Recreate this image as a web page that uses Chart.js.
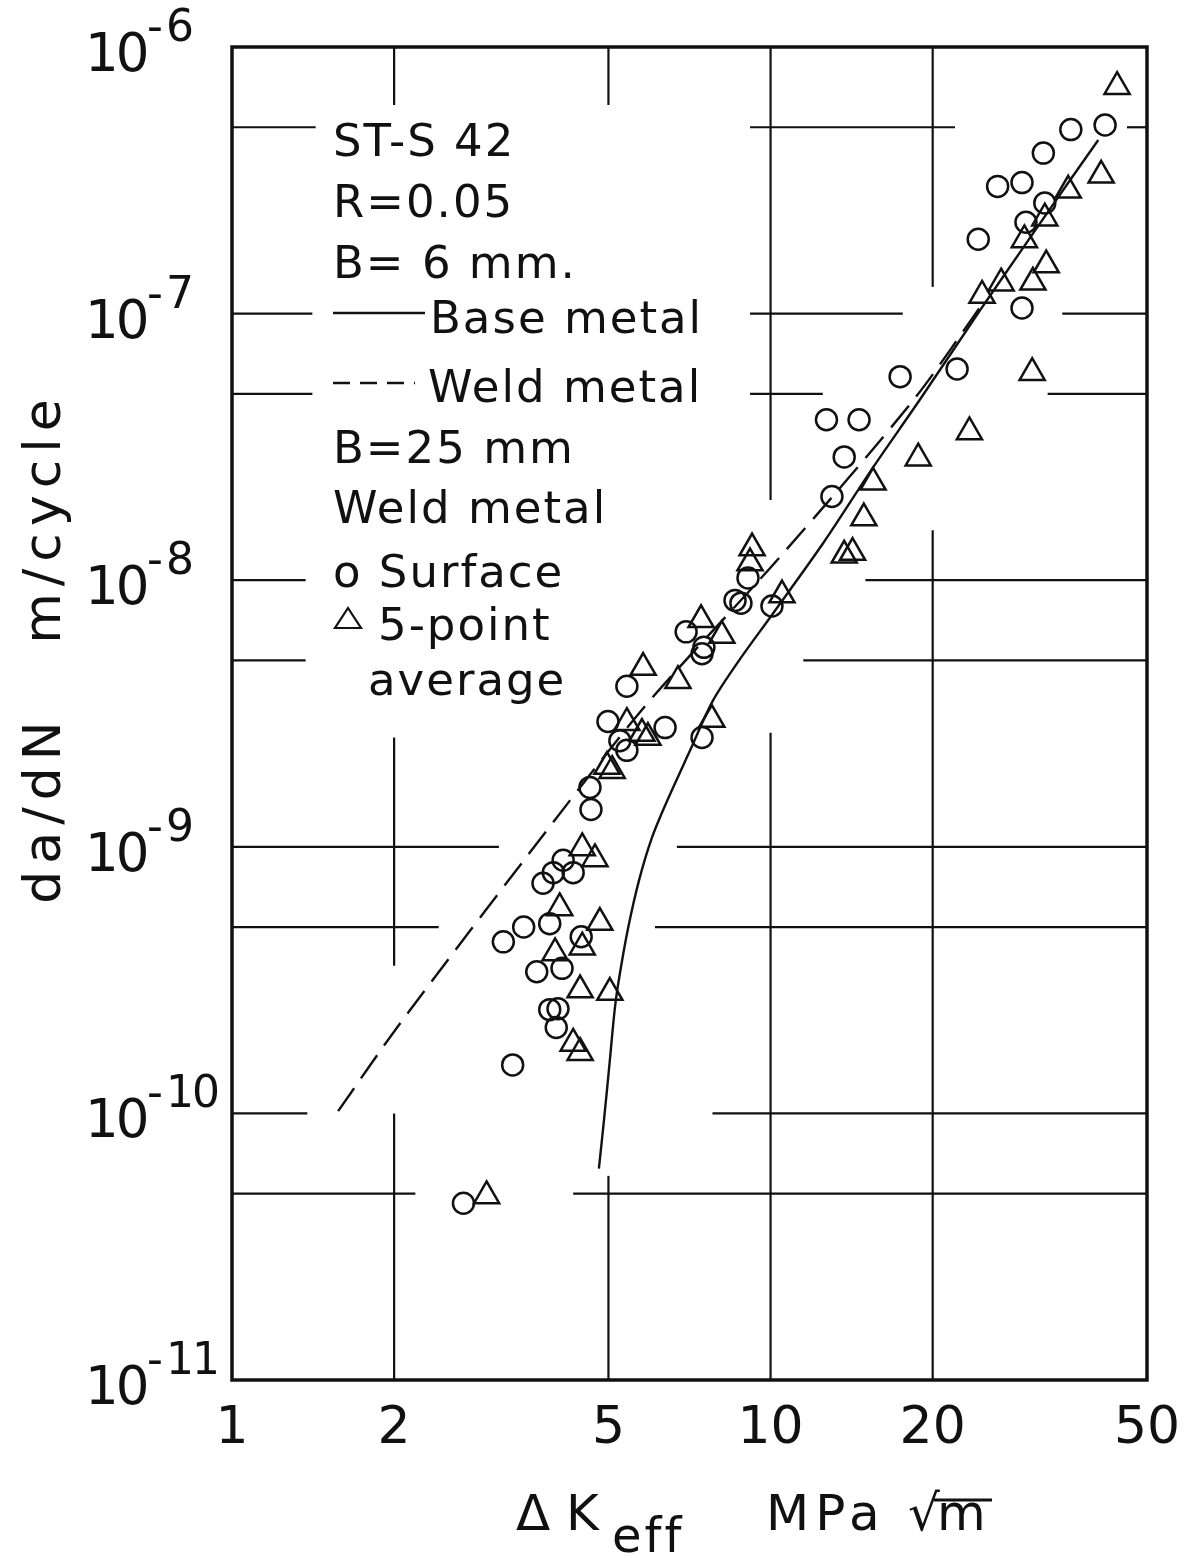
<!DOCTYPE html>
<html>
<head>
<meta charset="utf-8">
<title>Fatigue crack growth rate, ST-S 42</title>
<script src="https://cdn.jsdelivr.net/npm/chart.js@4.4.0/dist/chart.umd.min.js"></script>
<style>
  html, body { margin: 0; padding: 0; background: #fff; }
  #wrap { width: 1187px; height: 1558px; position: relative; }
</style>
</head>
<body>
<div id="wrap"><canvas id="c"></canvas></div>
<script>
// ΔK_eff in MPa√m, da/dN in m/cycle

// B = 25 mm weld metal, surface measurements (circles)
const surfaceK = [41.8, 36.1, 32.1, 29.3, 26.4, 32.3, 29.8, 24.3, 29.3, 22.2, 17.4, 12.7, 14.6, 13.7, 13.0,
  9.08, 8.59, 8.81, 10.06, 6.97, 7.52, 7.46, 5.41, 4.99, 6.37, 5.25, 5.41, 7.46, 4.62, 4.64,
  4.12, 4.30, 3.95, 3.78, 3.89, 3.48, 3.19, 4.45, 3.68, 4.10, 3.89, 4.03, 4.00, 3.32, 2.69];
const surfaceRate = [5.1e-7, 4.9e-7, 4.0e-7, 3.1e-7, 3.0e-7, 2.6e-7, 2.2e-7, 1.9e-7, 1.05e-7, 6.2e-8, 5.8e-8, 4.0e-8, 4.0e-8, 2.9e-8, 2.06e-8,
  1.02e-8, 8.4e-9, 8.2e-9, 8.0e-9, 6.4e-9, 5.6e-9, 5.3e-9, 4.0e-9, 2.95e-9, 2.8e-9, 2.5e-9, 2.3e-9, 2.57e-9, 1.67e-9, 1.38e-9,
  8.9e-10, 8.0e-10, 8.0e-10, 7.3e-10, 5.15e-10, 5.0e-10, 4.4e-10, 4.6e-10, 3.4e-10, 3.5e-10, 2.45e-10, 2.47e-10, 2.1e-10, 1.52e-10, 4.6e-11];

// B = 25 mm weld metal, 5-point average (triangles)
const averageK = [44.0, 41.1, 35.7, 32.3, 29.6, 32.5, 30.7, 26.8, 24.7, 30.6, 23.4, 18.8, 15.5, 14.9, 13.7, 14.2,
  10.5, 9.24, 9.16, 7.43, 8.12, 5.80, 6.73, 5.41, 5.77, 5.92, 7.78, 4.97, 5.08,
  4.47, 4.72, 4.06, 4.82, 3.98, 4.47, 4.43, 5.03, 4.30, 4.43, 2.97];
const averageRate = [7.1e-7, 3.3e-7, 2.9e-7, 2.28e-7, 1.89e-7, 1.52e-7, 1.31e-7, 1.30e-7, 1.17e-7, 6.0e-8, 3.6e-8, 2.87e-8, 2.33e-8, 1.71e-8, 1.24e-8, 1.27e-8,
  8.8e-9, 1.32e-8, 1.16e-8, 7.1e-9, 6.2e-9, 4.7e-9, 4.2e-9, 2.92e-9, 2.66e-9, 2.57e-9, 3.0e-9, 2.0e-9, 1.93e-9,
  9.9e-10, 9.0e-10, 5.9e-10, 5.2e-10, 4.0e-10, 4.2e-10, 2.9e-10, 2.84e-10, 1.83e-10, 1.69e-10, 4.9e-11];

// B = 6 mm base metal curve (solid)
const baseK = [4.80, 4.91, 5.03, 5.14, 5.25, 5.44, 5.70, 6.02, 6.40, 7.09, 7.82, 8.80, 9.98, 12.5, 15.5, 18.9, 24.5, 29.0, 36.0, 40.6];
const baseRate = [6.2e-11, 9.6e-11, 1.58e-10, 2.49e-10, 3.34e-10, 4.97e-10, 7.5e-10, 1.08e-9, 1.46e-9, 2.30e-9, 3.54e-9, 5.1e-9, 7.25e-9, 1.37e-8, 2.65e-8, 4.73e-8, 1.03e-7, 1.69e-7, 3.17e-7, 4.48e-7];

// B = 6 mm weld metal curve (dashed)
const weldK = [1.574, 2.05, 4.24, 5.97, 10.4, 18.4, 25.0];
const weldRate = [1.02e-10, 2.17e-10, 1.49e-9, 3.54e-9, 1.22e-8, 4.73e-8, 1.12e-7];

// axis tick labels
const xTickValues = [1, 2, 5, 10, 20, 50];
const xTickLabels = ['1', '2', '5', '10', '20', '50'];
const yTickExponents = [-6, -7, -8, -9, -10, -11];

// grid rules of the log paper, interrupted where the annotations and data sit
const hGrid = [
  { value: 5e-7,  spans: [[1, 1.43], [9.16, 22.0], [45.9, 50]] },
  { value: 1e-7,  spans: [[1, 1.41], [9.16, 17.6], [34.8, 50]] },
  { value: 5e-8,  spans: [[1, 1.41], [9.16, 12.5], [32.7, 50]] },
  { value: 1e-8,  spans: [[1, 1.37], [15.0, 50]] },
  { value: 5e-9,  spans: [[1, 1.37], [11.5, 50]] },
  { value: 1e-9,  spans: [[1, 3.13], [6.7, 50]] },
  { value: 5e-10, spans: [[1, 2.42], [6.1, 50]] },
  { value: 1e-10, spans: [[1, 1.38], [7.8, 50]] },
  { value: 5e-11, spans: [[1, 2.19], [4.3, 50]] }
];
const vGrid = [
  { value: 2,  spans: [[6.06e-7, 1e-6], [3.58e-10, 2.57e-9], [1e-11, 1e-10]] },
  { value: 5,  spans: [[6.06e-7, 1e-6], [1e-11, 5.83e-11]] },
  { value: 10, spans: [[2.0e-8, 1e-6], [1e-11, 2.68e-9]] },
  { value: 20, spans: [[1.26e-7, 1e-6], [1e-11, 1.54e-8]] }
];

const FONT = '"DejaVu Sans", "Liberation Sans", sans-serif';
const INK = '#111';

const pts = (xs, ys) => xs.map((x, i) => ({ x, y: ys[i] }));

function put(ctx, s, x, y, size, opt = {}) {
  ctx.save();
  ctx.font = `${size}px ${FONT}`;
  ctx.letterSpacing = (opt.spacing || 0) + 'px';
  ctx.textAlign = opt.align || 'left';
  ctx.textBaseline = opt.baseline || 'alphabetic';
  ctx.fillStyle = INK;
  ctx.fillText(s, x, y);
  ctx.restore();
}

const paperGrid = {
  id: 'paperGrid',
  beforeDatasetsDraw(chart) {
    const { ctx, scales: { x, y } } = chart;
    ctx.save();
    ctx.strokeStyle = INK;
    ctx.lineWidth = 2.2;
    hGrid.forEach(g => {
      const py = y.getPixelForValue(g.value);
      g.spans.forEach(([a, b]) => {
        ctx.beginPath();
        ctx.moveTo(x.getPixelForValue(a), py);
        ctx.lineTo(x.getPixelForValue(b), py);
        ctx.stroke();
      });
    });
    vGrid.forEach(g => {
      const px = x.getPixelForValue(g.value);
      g.spans.forEach(([a, b]) => {
        ctx.beginPath();
        ctx.moveTo(px, y.getPixelForValue(a));
        ctx.lineTo(px, y.getPixelForValue(b));
        ctx.stroke();
      });
    });
    ctx.restore();
  }
};

const frameAndText = {
  id: 'frameAndText',
  afterDraw(chart) {
    const { ctx, chartArea: a, scales: { x, y } } = chart;
    ctx.save();
    ctx.strokeStyle = INK;
    ctx.lineWidth = 3.5;
    ctx.strokeRect(a.left, a.top, a.right - a.left, a.bottom - a.top);
    ctx.restore();

    // y tick labels: 10 with raised exponent
    yTickExponents.forEach(e => {
      const py = y.getPixelForValue(Math.pow(10, e));
      const base = py + 24;
      put(ctx, '10', a.left - 147, base, 53, { spacing: -3 });
      put(ctx, '-', a.left - 85, base - 30, 44);
      put(ctx, String(-e), a.left - 66, base - 30, 44, { spacing: -2 });
    });

    // x tick labels
    xTickValues.forEach((v, i) => {
      put(ctx, xTickLabels[i], x.getPixelForValue(v), a.bottom + 63, 52, { align: 'center' });
    });

    // y axis title
    ctx.save();
    ctx.translate(46, 648);
    ctx.rotate(-Math.PI / 2);
    put(ctx, 'da/dN   m/cycle', 0, 0, 52, { align: 'center', baseline: 'middle', spacing: 7 });
    ctx.restore();

    // x axis title: ΔK_eff  MPa√m
    put(ctx, 'Δ', 516, 1530, 50);
    put(ctx, 'K', 566, 1530, 50);
    put(ctx, 'eff', 612, 1552, 48, { spacing: 3 });
    put(ctx, 'MPa', 766, 1530, 50, { spacing: 6 });
    put(ctx, '√', 908, 1530, 50);
    put(ctx, 'm', 937, 1530, 50);
    ctx.save();
    ctx.strokeStyle = INK;
    ctx.lineWidth = 3;
    ctx.beginPath();
    ctx.moveTo(934, 1500);
    ctx.lineTo(992, 1500);
    ctx.stroke();
    ctx.restore();

    // annotation block inside the plot
    const L = a.left + 101;
    const fs = 45, sp = 2;
    put(ctx, 'ST-S 42', L, 156, fs, { spacing: sp });
    put(ctx, 'R=0.05', L, 217, fs, { spacing: sp });
    put(ctx, 'B= 6 mm.', L, 278, fs, { spacing: sp });
    ctx.save();
    ctx.strokeStyle = INK;
    ctx.lineWidth = 2.4;
    ctx.beginPath();
    ctx.moveTo(L, 313);
    ctx.lineTo(L + 92, 313);
    ctx.stroke();
    ctx.setLineDash([17, 10]);
    ctx.beginPath();
    ctx.moveTo(L, 383);
    ctx.lineTo(L + 82, 383);
    ctx.stroke();
    ctx.restore();
    put(ctx, 'Base metal', L + 97, 333, fs, { spacing: sp });
    put(ctx, 'Weld metal', L + 95, 402, fs, { spacing: sp });
    put(ctx, 'B=25 mm', L, 463, fs, { spacing: sp });
    put(ctx, 'Weld metal', L, 523, fs, { spacing: sp });
    put(ctx, 'o Surface', L, 587, fs, { spacing: sp });
    ctx.save();
    ctx.strokeStyle = INK;
    ctx.lineWidth = 2.2;
    ctx.beginPath();
    ctx.moveTo(L + 15, 608);
    ctx.lineTo(L + 28, 628);
    ctx.lineTo(L + 2, 628);
    ctx.closePath();
    ctx.stroke();
    ctx.restore();
    put(ctx, '5-point', L + 45, 640, fs, { spacing: sp });
    put(ctx, 'average', L + 35, 695, fs, { spacing: sp });
  }
};

new Chart(document.getElementById('c'), {
  type: 'scatter',
  data: {
    datasets: [
      {
        label: 'Base metal (B = 6 mm)',
        data: pts(baseK, baseRate),
        showLine: true,
        borderColor: INK,
        borderWidth: 2.4,
        pointRadius: 0,
        fill: false,
        tension: 0.3
      },
      {
        label: 'Weld metal (B = 6 mm)',
        data: pts(weldK, weldRate),
        showLine: true,
        borderColor: INK,
        borderWidth: 2.4,
        borderDash: [28, 12],
        pointRadius: 0,
        fill: false,
        tension: 0.3
      },
      {
        label: 'Surface',
        data: pts(surfaceK, surfaceRate),
        pointStyle: 'circle',
        pointRadius: 10.5,
        borderWidth: 2.5,
        borderColor: INK,
        backgroundColor: 'rgba(0,0,0,0)'
      },
      {
        label: '5-point average',
        data: pts(averageK, averageRate),
        pointStyle: 'triangle',
        pointRadius: 14.5,
        borderWidth: 2.5,
        borderColor: INK,
        backgroundColor: 'rgba(0,0,0,0)'
      }
    ]
  },
  options: {
    responsive: true,
    maintainAspectRatio: false,
    animation: false,
    layout: { padding: { left: 232, top: 47, right: 40, bottom: 178 } },
    scales: {
      x: { type: 'logarithmic', min: 1, max: 50, display: false },
      y: { type: 'logarithmic', min: 1e-11, max: 1e-6, display: false }
    },
    plugins: {
      legend: { display: false },
      tooltip: { enabled: false }
    },
    events: []
  },
  plugins: [paperGrid, frameAndText]
});
</script>
</body>
</html>
